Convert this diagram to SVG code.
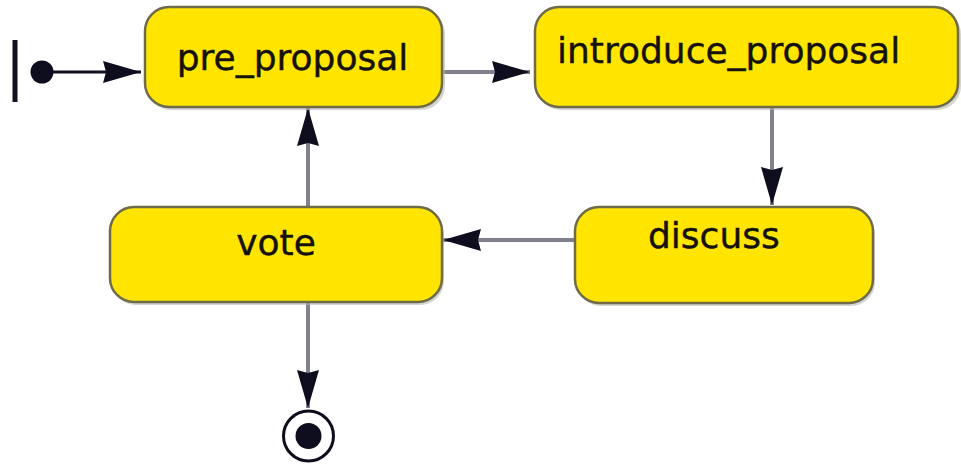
<svg xmlns="http://www.w3.org/2000/svg" width="961" height="468" viewBox="0 0 961 468">
<style>
.state rect.sh{fill:#b8b8b0;stroke:none;opacity:0.6}
.state rect.bx{fill:#ffe500;stroke:#6f6b48;stroke-width:2.5}
.state text{font-family:"DejaVu Sans","Verdana",sans-serif;font-size:36px;fill:#14120a;stroke:#14120a;stroke-width:0.4}
.conn line{stroke:#80808e;stroke-width:4}
.conn line.init{stroke:#111122;stroke-width:3}
</style>
<defs>
<marker id="ah" markerWidth="38" markerHeight="22" refX="38" refY="11" orient="auto" markerUnits="userSpaceOnUse">
<path d="M0,0 L38,11 L0,22 L3,11 Z" fill="#0d0d1e"/>
</marker>
</defs>
<rect width="961" height="468" fill="#ffffff"/>
<g id="connectors" class="conn">
<line class="init" x1="52" y1="72" x2="141" y2="72" marker-end="url(#ah)"/>
<line x1="443" y1="72" x2="530" y2="72" marker-end="url(#ah)"/>
<line x1="772" y1="108" x2="772" y2="205" marker-end="url(#ah)"/>
<line x1="574" y1="240" x2="443" y2="240" marker-end="url(#ah)"/>
<line x1="308" y1="206" x2="308" y2="108" marker-end="url(#ah)"/>
<line x1="308" y1="303" x2="308" y2="408" marker-end="url(#ah)"/>
</g>
<g id="initial">
<rect x="12.5" y="40" width="5" height="62" fill="#111122"/>
<circle cx="42" cy="72" r="11.5" fill="#0d0d1e"/>
</g>
<g id="pre_proposal" class="state">
<rect class="sh" x="147" y="10" width="298" height="100" rx="24"/>
<rect class="bx" x="145" y="7" width="297" height="100" rx="24"/>
<text x="292.5" y="70" text-anchor="middle">pre_proposal</text>
</g>
<g id="introduce_proposal" class="state">
<rect class="sh" x="537" y="10" width="424" height="100" rx="24"/>
<rect class="bx" x="535" y="7" width="423" height="100" rx="24"/>
<text x="557" y="63">introduce_proposal</text>
</g>
<g id="discuss" class="state">
<rect class="sh" x="577" y="210" width="298" height="96" rx="24"/>
<rect class="bx" x="575" y="207" width="298" height="96" rx="24"/>
<text x="648" y="248">discuss</text>
</g>
<g id="vote" class="state">
<rect class="sh" x="112" y="210" width="332" height="95" rx="24"/>
<rect class="bx" x="110" y="207" width="332" height="95" rx="24"/>
<text x="276" y="255" text-anchor="middle">vote</text>
</g>
<g id="final">
<circle cx="308.5" cy="436" r="25" fill="#ffffff" stroke="#0d0d1e" stroke-width="3"/>
<circle cx="308.5" cy="436" r="13" fill="#0d0d1e"/>
</g>
</svg>
